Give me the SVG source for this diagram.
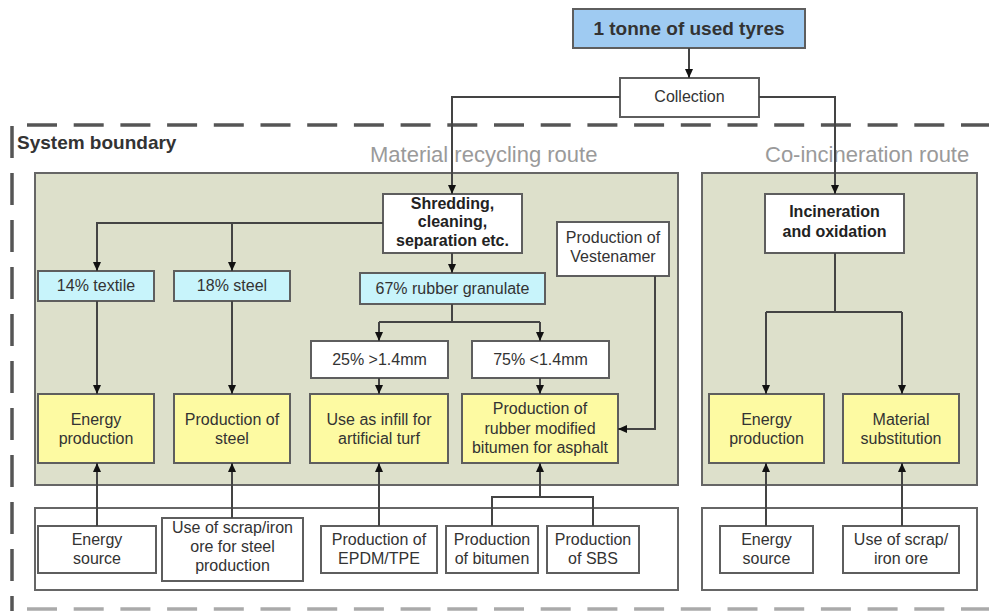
<svg xmlns="http://www.w3.org/2000/svg" width="989" height="611" viewBox="0 0 989 611">
<style>
text{font-family:"Liberation Sans",Arial,sans-serif;fill:#333;}
.t{font-size:16px;text-anchor:middle;}
.b{font-size:16px;font-weight:bold;text-anchor:middle;fill:#222;}
.route{font-size:22px;fill:#9a9a9a;}
.box{stroke:#5e5e5e;stroke-width:2;}
.white{fill:#fff;}
.cyan{fill:#c8f4fb;}
.yellow{fill:#fdfaa2;}
.panel{fill:#dde0cb;stroke:#666;stroke-width:2;}
.panelw{fill:#fff;stroke:#666;stroke-width:2;}
.dash{stroke:#555;stroke-width:3.5;fill:none;}
.c{fill:none;stroke:#444;stroke-width:2;}
.ca{fill:none;stroke:#444;stroke-width:2;marker-end:url(#arr);}
</style>
<defs>
<marker id="arr" markerUnits="userSpaceOnUse" markerWidth="10" markerHeight="10" viewBox="0 0 10 10" refX="9" refY="5" orient="auto">
<path d="M0,1 L9,5 L0,9 z" fill="#111"/>
</marker>
</defs>
<rect width="989" height="611" fill="#fff"/>

<g id="boundary">
<line class="dash" x1="27" y1="125" x2="989" y2="125" stroke-dasharray="30 16.7"/>
<line class="dash" x1="12" y1="126" x2="12" y2="611" stroke-dasharray="32 15"/>
<line class="dash" x1="27" y1="609" x2="989" y2="609" stroke-dasharray="30 16.7" stroke-opacity="0.5"/>
<text x="17" y="149" font-size="19" font-weight="bold" fill="#222">System boundary</text>
</g>

<g id="panels">
<rect class="panel" x="35" y="173" width="643" height="312"/>
<rect class="panel" x="702" y="173" width="275" height="312"/>
<rect class="panelw" x="35" y="508" width="643" height="82"/>
<rect class="panelw" x="702" y="508" width="275" height="82"/>
<text class="route" x="370" y="162">Material recycling route</text>
<text class="route" x="765" y="162">Co-incineration route</text>
</g>

<g id="tyres"><rect class="box" x="573" y="9" width="232" height="39" fill="#9fcbf2"/><text x="689" y="35" font-size="19" font-weight="bold" text-anchor="middle" fill="#222">1 tonne of used tyres</text></g>
<g id="collection"><rect class="box white" x="620" y="78" width="139" height="39"/><text class="t" x="689.5" y="102" font-size="15">Collection</text></g>

<g id="shredding"><rect class="box white" x="383" y="194" width="139" height="59"/><text class="b" x="452.5" y="208.5">Shredding,</text><text class="b" x="452.5" y="227">cleaning,</text><text class="b" x="452.5" y="245.5">separation etc.</text></g>
<g id="incineration"><rect class="box white" x="765" y="194" width="139" height="59"/><text class="b" x="834.5" y="217">Incineration</text><text class="b" x="834.5" y="236.5">and oxidation</text></g>
<g id="vestenamer"><rect class="box white" x="557" y="222" width="112" height="54"/><text class="t" x="613" y="243">Production of</text><text class="t" x="613" y="262">Vestenamer</text></g>

<g id="textile"><rect class="box cyan" x="38" y="271" width="116" height="30"/><text class="t" x="96" y="291">14% textile</text></g>
<g id="steel"><rect class="box cyan" x="174" y="271" width="116" height="30"/><text class="t" x="232" y="291">18% steel</text></g>
<g id="granulate"><rect class="box cyan" x="360" y="273" width="185" height="31"/><text class="t" x="452.5" y="294">67% rubber granulate</text></g>

<g id="coarse"><rect class="box white" x="311" y="341" width="137" height="37"/><text class="t" x="379.5" y="365">25% &gt;1.4mm</text></g>
<g id="fine"><rect class="box white" x="472" y="341" width="137" height="37"/><text class="t" x="540.5" y="365">75% &lt;1.4mm</text></g>

<g id="energy1"><rect class="box yellow" x="38" y="394" width="116" height="69"/><text class="t" x="96" y="424.5">Energy</text><text class="t" x="96" y="443.5">production</text></g>
<g id="prodsteel"><rect class="box yellow" x="174" y="394" width="116" height="69"/><text class="t" x="232" y="424.5">Production of</text><text class="t" x="232" y="443.5">steel</text></g>
<g id="infill"><rect class="box yellow" x="310" y="394" width="138" height="69"/><text class="t" x="379" y="424.5">Use as infill for</text><text class="t" x="379" y="443.5">artificial turf</text></g>
<g id="bitumenmod"><rect class="box yellow" x="462" y="394" width="156" height="69"/><text class="t" x="540" y="414">Production of</text><text class="t" x="540" y="433.5">rubber modified</text><text class="t" x="540" y="453">bitumen for asphalt</text></g>
<g id="energy2"><rect class="box yellow" x="709" y="394" width="115" height="69"/><text class="t" x="766.5" y="424.5">Energy</text><text class="t" x="766.5" y="443.5">production</text></g>
<g id="substitution"><rect class="box yellow" x="843" y="394" width="116" height="69"/><text class="t" x="901" y="424.5">Material</text><text class="t" x="901" y="443.5">substitution</text></g>

<g id="source1"><rect class="box white" x="38" y="526" width="118" height="47"/><text class="t" x="97" y="545">Energy</text><text class="t" x="97" y="564">source</text></g>
<g id="scrap1"><rect class="box white" x="162" y="518" width="141" height="63"/><text class="t" x="232.5" y="533">Use of scrap/iron</text><text class="t" x="232.5" y="552">ore for steel</text><text class="t" x="232.5" y="571">production</text></g>
<g id="epdm"><rect class="box white" x="321" y="526" width="116" height="47"/><text class="t" x="379" y="545">Production of</text><text class="t" x="379" y="564">EPDM/TPE</text></g>
<g id="bitumen"><rect class="box white" x="446" y="526" width="92" height="47"/><text class="t" x="492" y="545">Production</text><text class="t" x="492" y="564">of bitumen</text></g>
<g id="sbs"><rect class="box white" x="547" y="526" width="92" height="47"/><text class="t" x="593" y="545">Production</text><text class="t" x="593" y="564">of SBS</text></g>
<g id="source2"><rect class="box white" x="720" y="526" width="93" height="47"/><text class="t" x="766.5" y="545">Energy</text><text class="t" x="766.5" y="564">source</text></g>
<g id="scrap2"><rect class="box white" x="843" y="526" width="116" height="47"/><text class="t" x="901" y="545">Use of scrap/</text><text class="t" x="901" y="564">iron ore</text></g>

<g id="connectors">
<path class="ca" d="M689,48 V78"/>
<path class="ca" d="M620,97 H452 V194"/>
<path class="ca" d="M759,97 H835 V194"/>
<path class="ca" d="M383,223 H97 V271"/>
<path class="ca" d="M232,223 V271"/>
<path class="ca" d="M452,253 V273"/>
<path class="ca" d="M97,301 V394"/>
<path class="ca" d="M232,301 V394"/>
<path class="c" d="M452,304 V322 M379,322 H540"/>
<path class="ca" d="M379,322 V341"/>
<path class="ca" d="M540,322 V341"/>
<path class="ca" d="M379,378 V394"/>
<path class="ca" d="M540,378 V394"/>
<path class="ca" d="M655,276 V429 H618"/>
<path class="c" d="M835,253 V312 M766,312 H902"/>
<path class="ca" d="M766,312 V394"/>
<path class="ca" d="M902,312 V394"/>
<path class="ca" d="M97,526 V463"/>
<path class="ca" d="M232,518 V463"/>
<path class="ca" d="M379,526 V463"/>
<path class="c" d="M492,526 V497 H593 V526"/>
<path class="ca" d="M540,497 V463"/>
<path class="ca" d="M766,526 V463"/>
<path class="ca" d="M902,526 V463"/>
</g>
</svg>
